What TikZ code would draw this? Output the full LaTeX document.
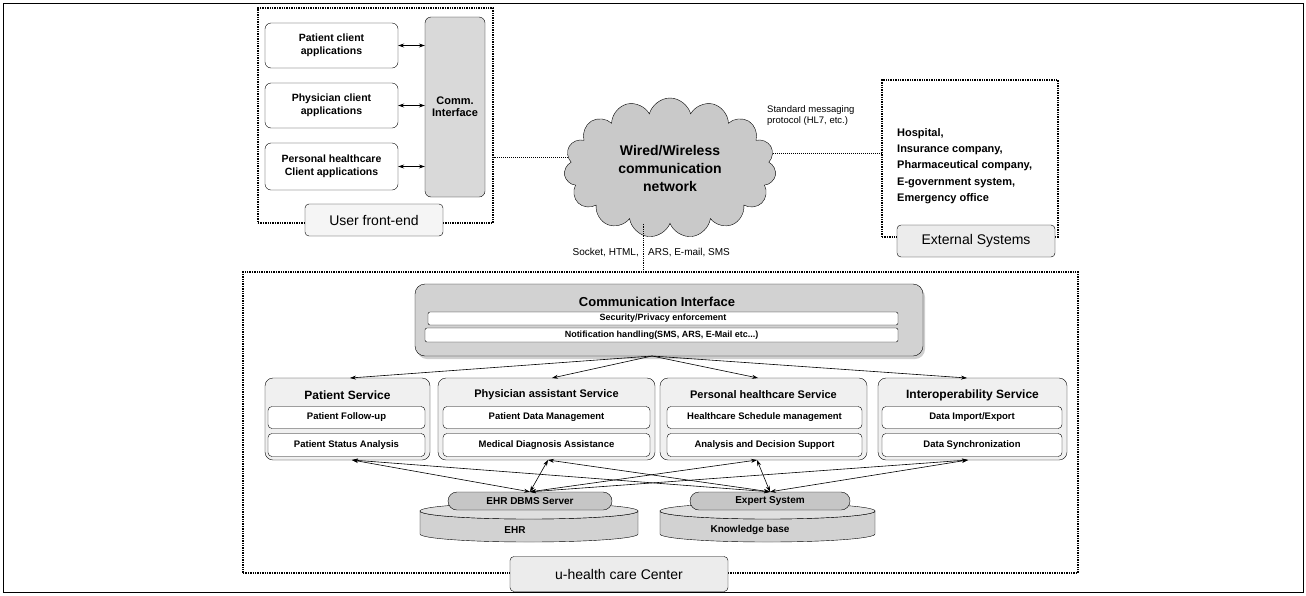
\documentclass[tikz,border=0pt]{standalone}
\usepackage{fontspec}
\setmainfont{Liberation Sans}
\usetikzlibrary{shapes.symbols,arrows.meta,shadows}

\begin{document}
\begin{tikzpicture}[x=1pt, y=-1pt,
  frame/.style={draw, densely dotted, line width=1.4pt, inner sep=0pt},
  tagbox/.style={draw, rounded corners=4pt, fill=gray!15, inner sep=0pt,
    font=\fontsize{14}{16}\selectfont},
  appbox/.style={draw, rounded corners=6pt, fill=white, align=center, inner sep=0pt,
    font=\fontsize{10.5}{13}\selectfont\bfseries},
  svcbox/.style={draw, rounded corners=8pt, fill=gray!12, inner sep=0pt, minimum height=82},
  subbox/.style={draw, rounded corners=4pt, fill=white, inner sep=0pt,
    font=\fontsize{9.5}{11}\selectfont\bfseries},
  svctitle/.style={font=\fontsize{12}{14}\selectfont\bfseries, inner sep=0pt},
  bar/.style={draw, rounded corners=2pt, fill=white, inner sep=0pt,
    font=\fontsize{9}{10}\selectfont\bfseries},
  disk/.style={draw, fill=gray!35},
  pill/.style={draw, rounded corners=9pt, fill=gray!45, inner sep=0pt,
    minimum height=18, font=\fontsize{10}{12}\selectfont\bfseries},
  link/.style={densely dotted, line width=1pt},
  flow/.style={-{Stealth[length=6pt,width=4pt]}, line width=0.6pt},
  both/.style={{Stealth[length=6pt,width=4pt]}-{Stealth[length=6pt,width=4pt]}, line width=0.6pt},
  note/.style={font=\fontsize{10}{11}\selectfont, inner sep=0pt}
]
\useasboundingbox (0,0) rectangle (1306,595);
\draw[line width=0.8pt] (3,3) rectangle (1303,592);

% user front-end
\node[frame, minimum width=235, minimum height=215] (front) at (375.5,115.5) {};
\node[appbox, minimum width=133, minimum height=45] (pat) at (331.5,45.5) {Patient client\\applications};
\node[appbox, minimum width=133, minimum height=45] (phy) at (331.5,105.5) {Physician client\\applications};
\node[appbox, minimum width=133, minimum height=47] (per) at (331.5,166.5) {Personal healthcare\\Client applications};
\node[draw, rounded corners=6pt, fill=gray!30, minimum width=60, minimum height=180, inner sep=0pt,
  align=center, font=\fontsize{11}{12}\selectfont\bfseries] (comm) at (455,107) {Comm.\\Interface};
\foreach \app in {pat,phy,per}
  \draw[both] (\app.east) -- (\app.east -| comm.west);
\node[tagbox, minimum width=138, minimum height=32, fill=gray!8] (fronttag) at (374,220) {User front-end};

% network
\node[cloud, cloud puffs=15, cloud ignores aspect, draw, fill=gray!42, minimum width=212, minimum height=140,
  inner sep=0pt, align=center, font=\fontsize{14}{18}\selectfont\bfseries] (net) at (670,168)
  {Wired/Wireless\\communication\\network};
\draw[link] (net.174) -- (front.east |- net.174);

% external systems
\node[frame, minimum width=176, minimum height=157] (ext) at (970,158.5) {};
\node[anchor=north west, align=left, inner sep=0pt, font=\fontsize{11}{16.3}\selectfont\bfseries] (exttext)
  at (897,128) {Hospital,\\Insurance company,\\Pharmaceutical company,\\E-government system,\\Emergency office};
\node[tagbox, minimum width=158, minimum height=32] (exttag) at (976,241) {External Systems};
\draw[link] (net.8) -- (ext.west |- net.8);
\node[anchor=north west, align=left, inner sep=0pt, font=\fontsize{9.5}{11}\selectfont] (proto)
  at (767,105) {Standard messaging\\protocol (HL7, etc.)};

% u-health care center
\node[frame, minimum width=835, minimum height=301] (uhc) at (660.5,422.5) {};
\coordinate (drop) at (643,272);
\draw[link, line width=0.8pt] (drop |- net.south) -- (drop);
\node[note, anchor=east] (sock) at (639,253) {Socket, HTML,};
\node[note, anchor=west] (ars) at (648,253) {ARS, E-mail, SMS};

\node[draw, rounded corners=10pt, fill=gray!35, minimum width=508, minimum height=72, inner sep=0pt,
  drop shadow={shadow xshift=2pt, shadow yshift=-3pt, fill=gray!75}] (ci) at (669,320) {};
\node[font=\fontsize{13}{15}\selectfont\bfseries, inner sep=0pt] (cititle) at (657,302) {Communication Interface};
\node[bar, minimum width=470, minimum height=13] (sec) at (663,318.5) {Security/Privacy enforcement};
\node[bar, minimum width=473, minimum height=14] (notif) at (661.5,335) {Notification handling(SMS, ARS, E-Mail etc...)};
\coordinate (cisrc) at (652,356);

% services
\node[svcbox, minimum width=165] (ps) at (347.5,419) {};
\node[svcbox, minimum width=217] (pas) at (546.5,419) {};
\node[svcbox, minimum width=207] (phs) at (763.5,419) {};
\node[svcbox, minimum width=189] (ios) at (972.5,419) {};
\node[svctitle] at (347.5,395) {Patient Service};
\node[svctitle, font=\fontsize{11}{13}\selectfont\bfseries] at (546.5,395) {Physician assistant Service};
\node[svctitle, font=\fontsize{11}{13}\selectfont\bfseries] at (763.5,395) {Personal healthcare Service};
\node[svctitle] at (972.5,395) {Interoperability Service};
\node[subbox, minimum width=157, minimum height=22] at (346.5,417.5) {Patient Follow-up};
\node[subbox, minimum width=157, minimum height=23] at (346.5,445) {Patient Status Analysis};
\node[subbox, minimum width=207, minimum height=22] at (546.5,417.5) {Patient Data Management};
\node[subbox, minimum width=207, minimum height=23] at (546.5,445) {Medical Diagnosis Assistance};
\node[subbox, minimum width=195, minimum height=22] at (764.5,417.5) {Healthcare Schedule management};
\node[subbox, minimum width=195, minimum height=23] at (764.5,445) {Analysis and Decision Support};
\node[subbox, minimum width=180, minimum height=22] at (972,417.5) {Data Import/Export};
\node[subbox, minimum width=180, minimum height=23] at (972,445) {Data Synchronization};

\draw[flow] (cisrc) -- (350,378);
\draw[flow] (cisrc) -- (552,378);
\draw[flow] (cisrc) -- (758,378);
\draw[flow] (cisrc) -- (967,378);

% databases
\foreach \cx/\rx in {529/109,767.5/107.5} {
  \draw[disk] (\cx-\rx,511) -- (\cx-\rx,534) arc[start angle=180, end angle=0, x radius=\rx, y radius=8]
    -- (\cx+\rx,511) arc[start angle=0, end angle=180, x radius=\rx, y radius=8] -- cycle;
  \draw[disk, fill=gray!25] (\cx,511) ellipse[x radius=\rx, y radius=8];
}
\node[font=\fontsize{10}{12}\selectfont\bfseries, inner sep=0pt] (ehrdb) at (515,530) {EHR};
\node[font=\fontsize{10}{12}\selectfont\bfseries, inner sep=0pt] (kbdb) at (750,530) {Knowledge base};
\node[pill, minimum width=164] (ehr) at (530,501) {EHR DBMS Server};
\node[pill, minimum width=160] (exp) at (770,501) {Expert System};

\foreach \x in {352,548,757,968} {
  \draw[both] (\x,460) -- (ehr.north);
  \draw[both] (\x,460) -- (exp.north);
}

\node[tagbox, minimum width=218, minimum height=35] (uhctag) at (619,574) {u-health care Center};
\end{tikzpicture}
\end{document}
